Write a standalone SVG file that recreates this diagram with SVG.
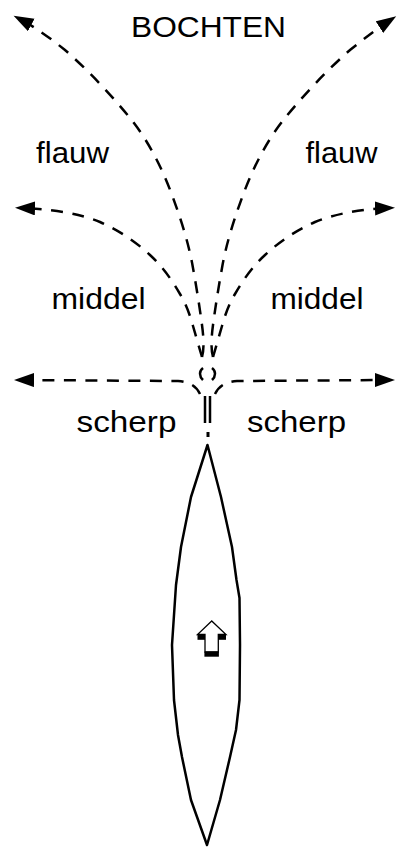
<svg xmlns="http://www.w3.org/2000/svg" width="398" height="847" viewBox="0 0 398 847">
  <style>
    .lbl { font-family: "Liberation Sans", Arial, sans-serif; font-size: 29.5px; fill: #000; }
    .dash { fill: none; stroke: #000; stroke-width: 2.5; stroke-dasharray: 12 9.5; }
    .solid { fill: none; stroke: #000; stroke-width: 2.5; }
    .hull { fill: #fff; stroke: #000; stroke-width: 2.5; stroke-linejoin: round; }
  </style>
  <defs>
    <marker id="head" markerUnits="userSpaceOnUse" markerWidth="22" markerHeight="16" refX="15" refY="7" orient="auto">
      <path d="M0,0 L20,7 L0,14 Z" fill="#000"/>
    </marker>
  </defs>
  <rect width="398" height="847" fill="#fff"/>

  <g id="title">
    <text class="lbl" x="131" y="37" textLength="155" lengthAdjust="spacingAndGlyphs">BOCHTEN</text>
  </g>

  <!-- course lines for the three kinds of bend -->
  <g id="connectors">
    <!-- common stem from the bow -->
    <path class="solid" d="M205,423 V396 M210,423 V396"/>
    <rect x="206.5" y="432" width="3" height="5" fill="#000"/>
    <path class="solid" d="M203,380 C199,376 199,371 203,368 M212,380 C216,376 216,371 212,368"/>

    <!-- scherp -->
    <path class="dash" marker-end="url(#head)" d="M200,394 C196,386 190,382 178,381 L19,380"/>
    <path class="dash" marker-end="url(#head)" d="M215,394 C219,386 225,382 237,381 L390,380"/>

    <!-- middel -->
    <path class="dash" marker-end="url(#head)" d="M202,357 C199,347 196,336 193,326 C190,315 186,304 180,294 C172,280 162,266 150,255 C135,241 118,230 100,222 C80,214 55,209 20,208"/>
    <path class="dash" marker-end="url(#head)" d="M213,357 C216,347 219,336 222,326 C225,315 229,304 235,294 C243,280 253,266 265,255 C280,241 297,230 315,222 C335,214 360,209 390,208"/>

    <!-- flauw -->
    <path class="dash" marker-end="url(#head)" d="M202,357 C204,350 204,340 202,325 C200,310 197,290 193,268 C189,245 182,222 172,195 C162,168 148,140 130,118 C112,96 90,72 65,50 C50,38 35,27 18,18"/>
    <path class="dash" marker-end="url(#head)" d="M213,357 C211,350 211,340 213,325 C215,310 218,290 222,268 C226,245 233,222 243,195 C253,168 267,140 285,118 C303,96 325,72 350,50 C365,38 378,28 392,19"/>
  </g>

  <g id="label-flauw-left"><text class="lbl" x="36" y="163" textLength="73" lengthAdjust="spacingAndGlyphs">flauw</text></g>
  <g id="label-flauw-right"><text class="lbl" x="305.5" y="163" textLength="72" lengthAdjust="spacingAndGlyphs">flauw</text></g>
  <g id="label-middel-left"><text class="lbl" x="51.5" y="309" textLength="94" lengthAdjust="spacingAndGlyphs">middel</text></g>
  <g id="label-middel-right"><text class="lbl" x="270.5" y="309" textLength="93" lengthAdjust="spacingAndGlyphs">middel</text></g>
  <g id="label-scherp-left"><text class="lbl" x="76.5" y="432" textLength="100" lengthAdjust="spacingAndGlyphs">scherp</text></g>
  <g id="label-scherp-right"><text class="lbl" x="247" y="432" textLength="99" lengthAdjust="spacingAndGlyphs">scherp</text></g>

  <!-- the ship seen from above -->
  <g id="ship">
    <polygon class="hull" points="207.5,445 191,497 181,547 176,585 172,645 174,700 178,735 182,757 191,800 207,845 220,800 230,757 236,730 239.5,700 240,645 239.5,598 236.5,580 232,547 221,497"/>
    <!-- heading arrow -->
    <path d="M211.7,621 L197.5,634.5 L205,634.5 L205,652 L218.3,652 L218.3,634.5 L226,634.5 Z" fill="#fff" stroke="#000" stroke-width="1.3" stroke-linejoin="miter"/>
    <rect x="197.5" y="634.3" width="7.5" height="5.5" fill="#000"/>
    <rect x="218.3" y="634.3" width="7.7" height="5.5" fill="#000"/>
    <rect x="204.4" y="651.5" width="14.5" height="5.2" fill="#000"/>
  </g>
</svg>
